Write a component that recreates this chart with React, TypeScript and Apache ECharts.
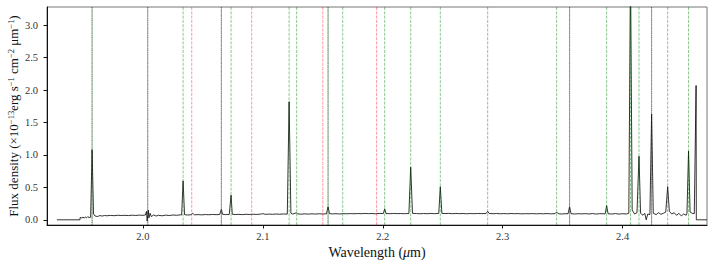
import React, { useEffect, useRef } from "react";
import * as echarts from "echarts";

// Observed spectrum: [wavelength (µm), flux density (1e-13 erg s^-1 cm^-2 µm^-1)]
const SPECTRUM: [number, number][] = [
  [1.9283, 0.0], [1.9475, 0.0], [1.9476, 0.035], [1.949, 0.03], [1.950, 0.042], [1.951, 0.025],
  [1.952, 0.045], [1.953, 0.03], [1.954, 0.05], [1.955, 0.035], [1.9564, 0.04], [1.9576, 1.08],
  [1.9588, 0.09], [1.960, 0.06], [1.962, 0.05], [1.964, 0.065], [1.966, 0.058], [1.968, 0.066],
  [1.970, 0.062], [1.973, 0.068], [1.976, 0.064], [1.979, 0.07], [1.982, 0.066], [1.985, 0.069],
  [1.988, 0.065], [1.991, 0.071], [1.994, 0.067], [1.997, 0.072], [2.000, 0.069], [2.002, 0.074],
  [2.003, 0.13], [2.0035, -0.02], [2.0045, 0.15], [2.005, 0.03], [2.006, 0.1], [2.007, 0.05],
  [2.009, 0.075], [2.011, 0.058], [2.013, 0.07], [2.016, 0.062], [2.019, 0.072], [2.022, 0.066],
  [2.025, 0.074], [2.028, 0.07], [2.031, 0.076], [2.0323, 0.075], [2.0335, 0.6], [2.0347, 0.08],
  [2.037, 0.074], [2.040, 0.078], [2.0415, 0.1], [2.043, 0.077], [2.046, 0.08], [2.049, 0.076],
  [2.052, 0.081], [2.055, 0.078], [2.058, 0.083], [2.061, 0.079], [2.064, 0.082], [2.0645, 0.08],
  [2.0654, 0.16], [2.0664, 0.085], [2.069, 0.08], [2.072, 0.083], [2.0725, 0.082], [2.0735, 0.38],
  [2.0745, 0.086], [2.077, 0.081], [2.080, 0.084], [2.083, 0.08], [2.086, 0.085], [2.089, 0.082],
  [2.092, 0.086], [2.095, 0.083], [2.098, 0.087], [2.100, 0.095], [2.102, 0.084], [2.105, 0.088],
  [2.108, 0.085], [2.111, 0.089], [2.114, 0.086], [2.117, 0.09], [2.1204, 0.088], [2.1219, 1.82],
  [2.1234, 0.1], [2.125, 0.088], [2.128, 0.11], [2.129, 0.09], [2.132, 0.087], [2.135, 0.091],
  [2.138, 0.088], [2.141, 0.092], [2.144, 0.089], [2.147, 0.093], [2.150, 0.09], [2.153, 0.092],
  [2.1544, 0.2], [2.1556, 0.095], [2.158, 0.091], [2.161, 0.094], [2.164, 0.09], [2.167, 0.095],
  [2.170, 0.092], [2.173, 0.096], [2.176, 0.093], [2.179, 0.097], [2.182, 0.094], [2.185, 0.098],
  [2.188, 0.095], [2.191, 0.097], [2.194, 0.093], [2.197, 0.098], [2.2005, 0.096], [2.2016, 0.17],
  [2.2027, 0.097], [2.206, 0.094], [2.209, 0.098], [2.212, 0.095], [2.215, 0.097], [2.218, 0.094],
  [2.2218, 0.097], [2.2233, 0.81], [2.2248, 0.1], [2.228, 0.096], [2.231, 0.093], [2.234, 0.097],
  [2.237, 0.094], [2.240, 0.098], [2.243, 0.095], [2.2467, 0.097], [2.248, 0.51], [2.2493, 0.1],
  [2.252, 0.096], [2.255, 0.099], [2.258, 0.094], [2.261, 0.098], [2.264, 0.095], [2.267, 0.097],
  [2.270, 0.093], [2.273, 0.097], [2.276, 0.094], [2.279, 0.098], [2.282, 0.095], [2.2862, 0.097],
  [2.2875, 0.13], [2.2888, 0.097], [2.292, 0.094], [2.295, 0.097], [2.298, 0.093], [2.301, 0.096],
  [2.304, 0.093], [2.307, 0.097], [2.310, 0.094], [2.313, 0.096], [2.316, 0.092], [2.319, 0.095],
  [2.322, 0.093], [2.325, 0.096], [2.328, 0.092], [2.331, 0.095], [2.334, 0.093], [2.337, 0.096],
  [2.340, 0.092], [2.3437, 0.095], [2.345, 0.12], [2.3463, 0.094], [2.349, 0.09], [2.352, 0.094],
  [2.3545, 0.093], [2.3558, 0.2], [2.357, 0.095], [2.360, 0.09], [2.363, 0.094], [2.366, 0.091],
  [2.369, 0.095], [2.372, 0.09], [2.375, 0.096], [2.378, 0.089], [2.381, 0.095], [2.3855, 0.092],
  [2.3867, 0.22], [2.3879, 0.093], [2.391, 0.089], [2.394, 0.096], [2.397, 0.088], [2.400, 0.094],
  [2.403, 0.09], [2.4052, 0.1], [2.4066, 3.9], [2.408, 0.15], [2.410, 0.09], [2.412, 0.11],
  [2.4137, 0.98], [2.415, 0.1], [2.417, 0.07], [2.4185, 0.1], [2.4197, 0.0], [2.421, 0.09],
  [2.4228, 0.08], [2.4242, 1.63], [2.4256, 0.1], [2.428, 0.08], [2.430, 0.11], [2.432, 0.085],
  [2.434, 0.1], [2.436, 0.12], [2.4376, 0.51], [2.439, 0.13], [2.441, 0.09], [2.443, 0.11],
  [2.445, 0.07], [2.447, 0.1], [2.449, 0.06], [2.451, 0.09], [2.453, 0.07], [2.4537, 0.1],
  [2.455, 1.06], [2.4563, 0.12], [2.458, 0.1], [2.4598, 0.095], [2.4613, 2.07], [2.4615, 0.0],
  [2.4704, 0.0],
];

// Line identifications (µm)
const GREEN_LINES = [
  1.9576, 2.004, 2.0335, 2.0654, 2.0735, 2.1219, 2.1282, 2.1544, 2.1666, 2.2016, 2.2233, 2.248,
  2.2875, 2.345, 2.3558, 2.3867, 2.4066, 2.4137, 2.4242, 2.4376, 2.455,
];
const GRAY_LINES = [1.9576, 2.004, 2.0654, 2.1544, 2.3558, 2.4242];
const RED_LINES = [2.0407, 2.0907, 2.150, 2.1949];

const X_TICKS = [2.0, 2.1, 2.2, 2.3, 2.4];
const Y_TICKS = [0.0, 0.5, 1.0, 1.5, 2.0, 2.5, 3.0];

const FONT = "'Liberation Serif', 'DejaVu Serif', serif";

function vlines(values: number[], color: string, offset: number, z: number) {
  return {
    type: "custom",
    silent: true,
    z,
    clip: true,
    data: values.map((v) => [v]),
    encode: { x: 0 },
    renderItem: (params: any, api: any) => {
      const cs = params.coordSys;
      const x = api.coord([api.value(0), 0])[0];
      return {
        type: "line",
        shape: { x1: x, y1: cs.y, x2: x, y2: cs.y + cs.height },
        style: { stroke: color, lineWidth: 0.9, lineDash: [3, 1.3], lineDashOffset: offset },
      };
    },
  };
}

export default function App() {
  const ref = useRef<HTMLDivElement>(null);
  useEffect(() => {
    document.body.style.margin = "0";
    const chart = echarts.init(ref.current!, null, { renderer: "svg" });
    chart.setOption({
      animation: false,
      backgroundColor: "#ffffff",
      grid: {
        left: 47,
        right: 7,
        top: 7,
        bottom: 42,
        show: true,
        borderColor: "#777",
        borderWidth: 1,
        backgroundColor: "transparent",
        containLabel: false,
        outerBoundsMode: "none",
      },
      xAxis: {
        type: "value",
        min: 1.92,
        max: 2.4704,
        axisLine: { show: true, onZero: false, lineStyle: { color: "#111", width: 1 } },
        axisTick: { show: true, inside: false, length: 3.5, customValues: X_TICKS, lineStyle: { color: "#111" } },
        axisLabel: {
          customValues: X_TICKS,
          formatter: (v: number) => v.toFixed(1),
          color: "#333",
          fontFamily: FONT,
          fontSize: 10.5,
          margin: 6,
        },
        splitLine: { show: false },
        name: "Wavelength ({i|μ}m)",
        nameLocation: "middle",
        nameGap: 20,
        nameMoveOverlap: false,
        nameTextStyle: {
          fontFamily: FONT,
          fontSize: 14,
          color: "#111",
          rich: { i: { fontFamily: FONT, fontSize: 14, fontStyle: "italic", color: "#111" } },
        },
      },
      yAxis: {
        type: "value",
        min: -0.08,
        max: 3.28,
        axisLine: { show: true, onZero: false, lineStyle: { color: "#111", width: 1 } },
        axisTick: { show: true, inside: false, length: 3.5, customValues: Y_TICKS, lineStyle: { color: "#111" } },
        axisLabel: {
          customValues: Y_TICKS,
          formatter: (v: number) => v.toFixed(1),
          color: "#333",
          fontFamily: FONT,
          fontSize: 10.5,
          margin: 9,
        },
        splitLine: { show: false },
        name: "Flux density (×10{s|−13}erg s{s|−1} cm{s|−2} μm{s|−1})",
        nameLocation: "middle",
        nameGap: 26,
        nameMoveOverlap: false,
        nameTextStyle: {
          fontFamily: FONT,
          fontSize: 13,
          lineHeight: 15,
          color: "#111",
          rich: {
            s: { fontFamily: FONT, fontSize: 8.5, lineHeight: 10, verticalAlign: "top", color: "#111" },
          },
        },
      },
      series: [
        {
          type: "line",
          data: SPECTRUM,
          showSymbol: false,
          symbol: "none",
          silent: true,
          clip: true,
          lineStyle: { color: "#000", width: 0.8 },
          z: 2,
        },
        vlines(GRAY_LINES, "rgba(0,0,0,0.45)", 2.1, 3),
        vlines(GREEN_LINES, "rgba(0,128,0,0.5)", 0, 4),
        vlines(RED_LINES, "rgba(255,0,0,0.45)", 0, 4),
      ],
    });
    return () => chart.dispose();
  }, []);
  return <div ref={ref} style={{ width: 714, height: 267 }} />;
}
